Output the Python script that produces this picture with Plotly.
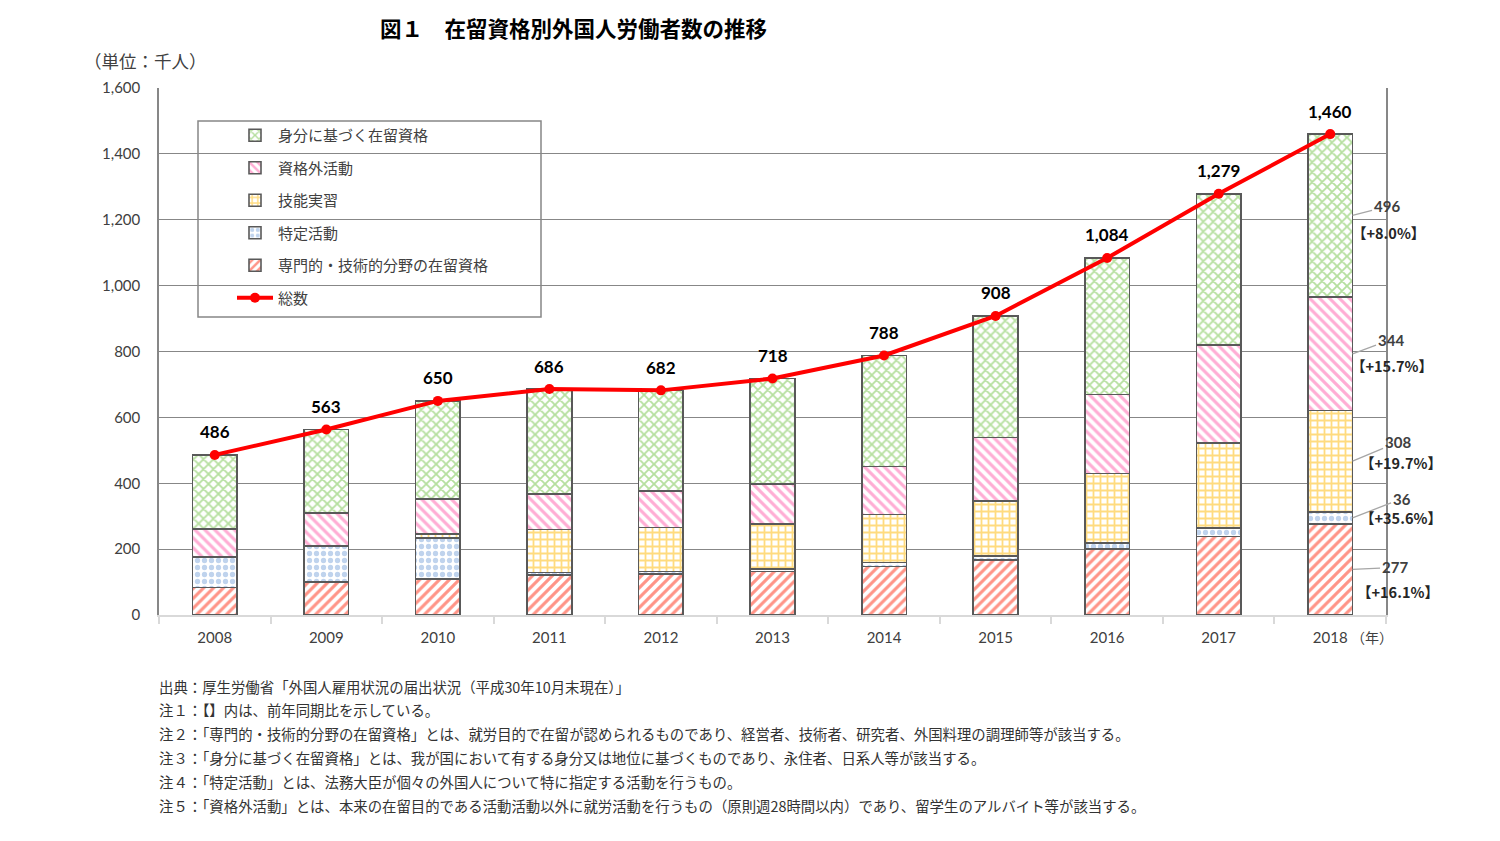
import plotly.graph_objects as go

years = ['2008', '2009', '2010', '2011', '2012', '2013', '2014', '2015', '2016', '2017', '2018']
senmon = [83, 100, 109, 121, 124, 132, 147, 167, 200, 238, 277]
tokutei = [94, 109, 125, 8, 8, 8, 13, 13, 18, 26, 36]
ginou = [0, 0, 12, 130, 134, 136, 145, 167, 212, 258, 308]
shikakugai = [84, 101, 106, 108, 110, 121, 146, 192, 240, 298, 344]
mibun = [225, 253, 298, 319, 306, 321, 337, 369, 414, 459, 496]
totals = [486, 563, 650, 686, 682, 718, 788, 908, 1084, 1279, 1460]

names = ['専門的・技術的分野の在留資格', '特定活動', '技能実習', '資格外活動', '身分に基づく在留資格']
series = [senmon, tokutei, ginou, shikakugai, mibun]
colors = ['#FF2A10', '#7FA8DC', '#FFB800', '#FF5CAA', '#6CBF3E']
shapes_p = ['/', '.', '+', '\\', 'x']
ranks = [5, 4, 3, 2, 1]

label_2018 = ['277', '36', '308', '344', '496']
pct_2018 = ['【+16.1%】', '【+35.6%】', '【+19.7%】', '【+15.7%】', '【+8.0%】']
# label offsets in pixels (layout)
lab_off = [(42, -2), (49, -19), (45, -19), (38, -14), (34, -9)]
pct_off = [(45, -22), (48, 0), (48, -1), (39, -12), (36, -17)]

footnotes = [
    '出典：厚生労働省「外国人雇用状況の届出状況（平成30年10月末現在）」',
    '注１：【】内は、前年同期比を示している。',
    '注２：「専門的・技術的分野の在留資格」とは、就労目的で在留が認められるものであり、経営者、技術者、研究者、外国料理の調理師等が該当する。',
    '注３：「身分に基づく在留資格」とは、我が国において有する身分又は地位に基づくものであり、永住者、日系人等が該当する。',
    '注４：「特定活動」とは、法務大臣が個々の外国人について特に指定する活動を行うもの。',
    '注５：「資格外活動」とは、本来の在留目的である活動活動以外に就労活動を行うもの（原則週28時間以内）であり、留学生のアルバイト等が該当する。',
]

FONT = 'Lato, Noto Sans CJK JP, sans-serif'
JFONT = 'Noto Sans CJK JP'

# plot area geometry (px) for paper-coordinate placement of texts
L, T, W, H = 151, 80, 1227, 527


def px_x(x):
    return (x - 159) / W


def px_y(y):
    return (615 - y) / H


fig = go.Figure()
for nm, vals, col, sh, rk in zip(names, series, colors, shapes_p, ranks):
    fig.add_trace(go.Bar(
        x=years, y=vals, name=nm, legendrank=rk, legendgroup=nm,
        marker=dict(color='white', line=dict(color='#595959', width=1.6),
                    pattern=dict(shape=sh, fgcolor=col, bgcolor='white', size=7, solidity=0.45,
                                 fillmode='overlay')),
        hoverinfo='x+y+name'))

fig.add_trace(go.Scatter(
    x=years, y=totals, name='総数', legendrank=6, legendgroup='総数',
    mode='lines+markers', line=dict(color='#FF0000', width=4),
    marker=dict(color='#FF0000', size=10)))

ann = []
for i, t in enumerate(totals):
    ann.append(dict(x=i, y=t, xref='x', yref='y', text=f'{t:,}', showarrow=False,
                    xanchor='center', yanchor='middle', yshift=23,
                    font=dict(family=FONT, size=17, color='black', weight='bold')))

# 2018 right-side labels
cum = 0
last = len(years) - 1
for i, vals in enumerate(series):
    v = vals[last]
    mid = cum + v / 2
    cum += v
    ax, ay = lab_off[i]
    ann.append(dict(x=last + 0.2, y=mid, xref='x', yref='y', text=label_2018[i],
                    showarrow=True, arrowhead=0, arrowwidth=1.3, arrowcolor='#A6A6A6',
                    ax=ax, ay=ay, standoff=0,
                    font=dict(family=FONT, size=15, color='#404040', weight='bold')))
    px, py = pct_off[i]
    ann.append(dict(x=last + 0.2, y=mid, xref='x', yref='y', text=pct_2018[i],
                    showarrow=False, xshift=px, yshift=py, xanchor='center', yanchor='middle',
                    font=dict(family=JFONT, size=14.5, color='#262626', weight='bold')))

ann.append(dict(x=px_x(573), y=px_y(27), xref='paper', yref='paper', text='図１　在留資格別外国人労働者数の推移',
                xanchor='center', yanchor='middle',
                showarrow=False, font=dict(family=JFONT, size=21.5, color='black', weight='bold')))
ann.append(dict(x=px_x(145), y=px_y(61), xref='paper', yref='paper', text='（単位：千人）',
                xanchor='center', yanchor='middle',
                showarrow=False, font=dict(family=JFONT, size=17.5, color='#404040')))
ann.append(dict(x=px_x(1372), y=px_y(637), xref='paper', yref='paper', text='（年）',
                xanchor='center', yanchor='middle',
                showarrow=False, font=dict(family=JFONT, size=14, color='#404040')))

for k, line in enumerate(footnotes):
    ypx = 686 + k * 23.8
    ann.append(dict(x=px_x(157), y=px_y(ypx), xref='paper', yref='paper', text=line,
                    xanchor='left', yanchor='middle', showarrow=False,
                    font=dict(family=JFONT, size=14.4, color='#333333')))

fig.update_layout(
    width=1500, height=841,
    margin=dict(l=L, r=1500 - L - W, t=T, b=841 - T - H),
    paper_bgcolor='white', plot_bgcolor='white',
    barmode='stack', bargap=0.6,
    font=dict(family=FONT, size=15, color='#404040'),
    annotations=ann,
    showlegend=True,
    legend=dict(x=px_x(232), y=px_y(119), xanchor='left', yanchor='top', bgcolor='rgba(0,0,0,0)',
                borderwidth=0, tracegroupgap=10, font=dict(family=JFONT, size=15, color='#404040'),
                itemwidth=36, traceorder='grouped'),
    shapes=[dict(type='rect', xref='paper', yref='paper', x0=px_x(198), x1=px_x(541), y0=px_y(317), y1=px_y(121),
                 line=dict(color='#878787', width=1.5), fillcolor='white', layer='between')],
    xaxis=dict(type='category', showgrid=False, showline=True, linecolor='#D9D9D9', linewidth=1.5,
               ticks='outside', tickson='boundaries', ticklen=7, tickcolor='#D9D9D9', tickwidth=1.5,
               ticklabelstandoff=8,
               tickfont=dict(family=FONT, size=15, color='#404040'), range=[-0.5, 10.5]),
    yaxis=dict(range=[0, 1600], dtick=200, tickformat=',', showgrid=True, gridcolor='#878787', gridwidth=1.3,
               showline=True, linecolor='#878787', linewidth=1.5, mirror=True, ticks='', zeroline=False,
               ticklabelstandoff=14, tickfont=dict(family=FONT, size=15, color='#404040')),
)

fig.write_html('out.html')
